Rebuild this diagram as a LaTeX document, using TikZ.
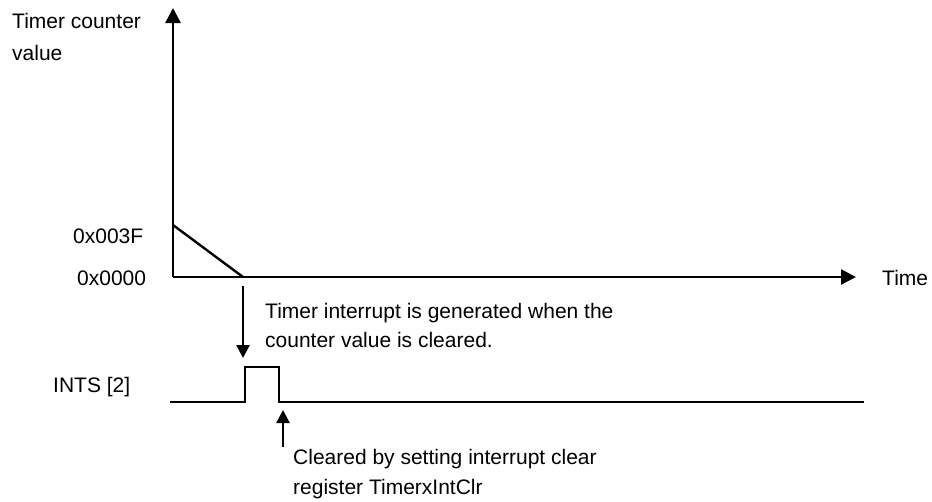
\documentclass[tikz,border=0pt]{standalone}
\usepackage{fontspec}
\setmainfont{Liberation Sans}
\usetikzlibrary{arrows.meta, positioning}

\tikzset{
  lbl/.style={inner sep=0pt, font=\fontsize{21}{24}\selectfont},
  axis/.style={line width=2.6pt, -{Triangle[length=15pt, width=15pt]}},
  sig/.style={line width=2.4pt},
  ptr/.style={line width=2.4pt, -{Triangle[length=13pt, width=13pt]}}
}

\begin{document}
\begin{tikzpicture}[x=1pt, y=-1pt]
  \useasboundingbox (0,0) rectangle (932,501);

  % Labels
  \node[lbl, anchor=north west, align=left,
        font=\fontsize{21}{32}\selectfont] (ylabel) at (12,13) {Timer counter\\value};
  \node[lbl, anchor=base west] (top) at (73,243) {0x003F};
  \node[lbl, anchor=base west] (zero) at (77,285) {0x0000};
  \node[lbl, anchor=base west] (xlabel) at (882,285) {Time};
  \node[lbl, anchor=base west] (ints) at (53,392) {INTS [2]};
  \node[lbl, anchor=north west, align=left,
        font=\fontsize{21}{29}\selectfont] (gen) at (265,303)
        {Timer interrupt is generated when the\\counter value is cleared.};
  \node[lbl, anchor=north west, align=left,
        font=\fontsize{21}{30}\selectfont] (clr) at (293,449)
        {Cleared by setting interrupt clear\\register TimerxIntClr};

  % Axes
  \coordinate (origin) at (173,277);
  \coordinate (ytip) at (173,8);
  \coordinate (xtip) at (856,277);
  \draw[axis] (origin) -- (ytip);
  \draw[axis] (origin) -- (xtip);

  % Counter ramp
  \coordinate (start) at (173,225);
  \coordinate (zerohit) at (243,277);
  \draw[sig] (start) -- (zerohit);

  % Interrupt signal
  \coordinate (sigstart) at (170,402);
  \coordinate (rise) at (245,402);
  \coordinate (fall) at (279,402);
  \coordinate (sigend) at (864,402);
  \draw[sig] (sigstart) -- (rise) -- ++(0,-35) -| (fall) -- (sigend);

  % Pointers
  \coordinate (genfrom) at (243,286);
  \coordinate (gento) at (243,358);
  \draw[ptr] (genfrom) -- (gento);
  \coordinate (clrfrom) at (283,447);
  \coordinate (clrto) at (283,410);
  \draw[ptr] (clrfrom) -- (clrto);
\end{tikzpicture}
\end{document}
